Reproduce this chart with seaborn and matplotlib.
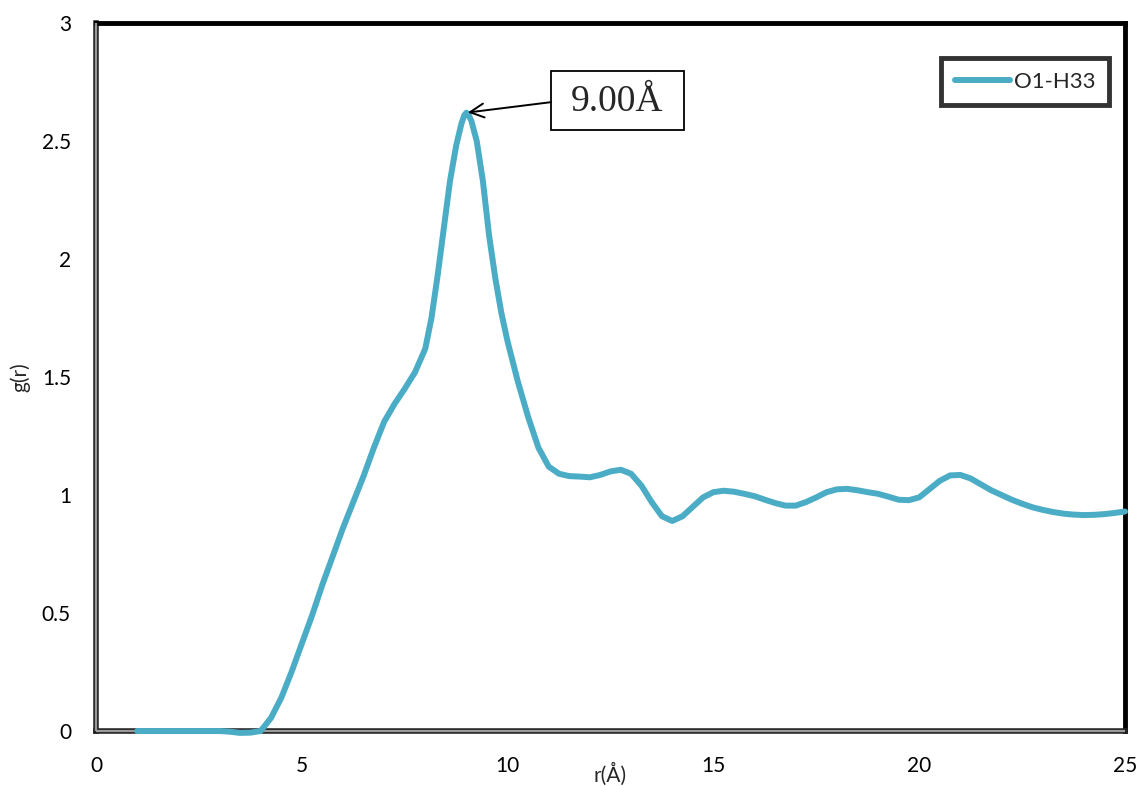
import matplotlib
matplotlib.use("Agg")
import matplotlib.pyplot as plt
from matplotlib.patches import Rectangle
import seaborn as sns
import pandas as pd

r_values = [1, 1.5, 2, 2.5, 3, 3.25, 3.5, 3.75, 4, 4.25, 4.5, 4.75, 5, 5.25, 5.5, 5.75,
            6, 6.25, 6.5, 6.75, 7, 7.25, 7.5, 7.75, 8, 8.15, 8.3, 8.45, 8.6, 8.75, 8.88,
            8.95, 9, 9.05, 9.12, 9.25, 9.4, 9.55, 9.7, 9.85, 10, 10.25, 10.5, 10.75, 11,
            11.25, 11.5, 11.75, 12, 12.25, 12.5, 12.75, 13, 13.25, 13.5, 13.75, 14, 14.25,
            14.5, 14.75, 15, 15.25, 15.5, 15.75, 16, 16.25, 16.5, 16.75, 17, 17.25, 17.5,
            17.75, 18, 18.25, 18.5, 18.75, 19, 19.25, 19.5, 19.75, 20, 20.25, 20.5, 20.75,
            21, 21.25, 21.5, 21.75, 22, 22.25, 22.5, 22.75, 23, 23.25, 23.5, 23.75, 24,
            24.25, 24.5, 24.75, 25]
g_values = [0, 0, 0, 0, 0, -0.003, -0.008, -0.007, 0.0, 0.055, 0.14, 0.25, 0.37, 0.49,
            0.62, 0.74, 0.86, 0.97, 1.08, 1.2, 1.31, 1.385, 1.45, 1.52, 1.62, 1.75, 1.93,
            2.13, 2.33, 2.48, 2.575, 2.61, 2.62, 2.612, 2.585, 2.5, 2.33, 2.1, 1.92, 1.77,
            1.65, 1.48, 1.33, 1.2, 1.12, 1.09, 1.08, 1.078, 1.075, 1.085, 1.1, 1.107, 1.09,
            1.04, 0.97, 0.91, 0.89, 0.91, 0.95, 0.99, 1.012, 1.018, 1.014, 1.005, 0.995,
            0.98, 0.966, 0.955, 0.955, 0.97, 0.99, 1.012, 1.024, 1.026, 1.02, 1.012, 1.005,
            0.993, 0.98, 0.978, 0.99, 1.025, 1.06, 1.083, 1.085, 1.07, 1.045, 1.02, 1.0,
            0.98, 0.963, 0.948, 0.937, 0.928, 0.921, 0.917, 0.915, 0.916, 0.919, 0.924,
            0.93]
series_name = "O1-H33"
x_ticks = [0, 5, 10, 15, 20, 25]
y_ticks = [0, 0.5, 1, 1.5, 2, 2.5, 3]
y_tick_labels = ["0", "0.5", "1", "1.5", "2", "2.5", "3"]
peak_label = "9.00Å"
peak_x, peak_y = 9.0, 2.62

df = pd.DataFrame({"r": r_values, "g": g_values, "series": series_name})

sns.set_style("white")
plt.rcParams['font.family'] = ['Lato', 'DejaVu Sans']

fig = plt.figure(figsize=(11.42, 7.86), dpi=100)
ax = fig.add_axes([96/1142, 55/786, (1125-96)/1142, (731-23)/786])

sns.lineplot(data=df, x="r", y="g", hue="series", palette=["#4bacc6"], ax=ax,
             linewidth=4.3, solid_joinstyle="round", solid_capstyle="round", sort=False)
for ln in ax.get_lines():
    ln.set_zorder(8)
    ln.set_clip_on(False)

ax.set_xlim(0, 25)
ax.set_ylim(0, 3)
ax.set_xticks(x_ticks)
ax.set_xticklabels([str(t) for t in x_ticks])
ax.set_yticks(y_ticks)
ax.set_yticklabels(y_tick_labels)
ax.tick_params(axis="both", length=0, labelsize=15, colors="black")
ax.tick_params(axis="x", pad=18)
ax.tick_params(axis="y", pad=18)

ax.set_xlabel("r(Å)", fontsize=15, labelpad=-10)
ax.set_ylabel("g(r)", fontsize=15, labelpad=8)

for side in ["top", "right"]:
    ax.spines[side].set_color("black")
    ax.spines[side].set_linewidth(3.5)
for side in ["left", "bottom"]:
    ax.spines[side].set_color("#222222")
    ax.spines[side].set_linewidth(4)
ax.plot([0, 0], [0, 3], color="#9a9a9a", lw=1.6, clip_on=False, zorder=6,
        solid_capstyle="butt")
ax.plot([0, 25], [0, 0], color="#9a9a9a", lw=1.6, clip_on=False, zorder=6,
        solid_capstyle="butt")

leg = ax.legend(loc="upper right", bbox_to_anchor=(0.984, 0.95), fontsize=16,
                frameon=True, fancybox=False, handlelength=2.5, handletextpad=0.15,
                borderpad=0.6, borderaxespad=0)
leg.get_frame().set_edgecolor("black")
leg.get_frame().set_linewidth(3.5)
for line in leg.get_lines():
    line.set_linewidth(4.3)

# annotation callout: box, label, arrow
box_x0, box_y0, box_w, box_h = 11.05, 2.547, 3.23, 0.25
ax.add_patch(Rectangle((box_x0, box_y0), box_w, box_h, fc="white", ec="black",
                       lw=1.3, zorder=9, clip_on=False))
ax.text(box_x0 + box_w / 2, box_y0 + box_h / 2 - 0.005, peak_label, fontsize=27,
        family="Liberation Serif", ha="center", va="center", zorder=10)
ax.annotate("", xy=(peak_x, peak_y), xytext=(box_x0, box_y0 + box_h * 0.47),
            arrowprops=dict(arrowstyle="->", color="black", lw=1.4,
                            mutation_scale=25, shrinkA=0, shrinkB=1), zorder=9)

fig.savefig("out.png", dpi=100)
